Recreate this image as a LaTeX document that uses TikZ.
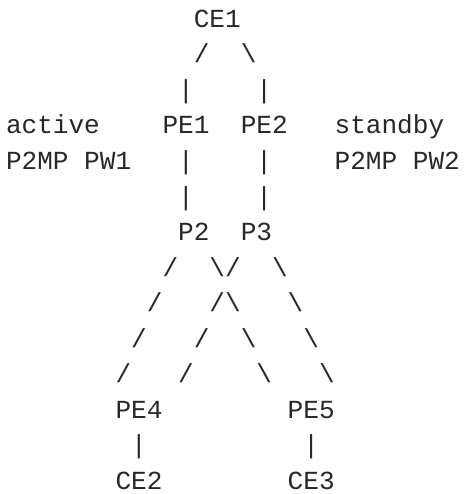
\documentclass[tikz,border=0pt]{standalone}
\usepackage{fontspec}
\setmonofont{Liberation Mono}
\definecolor{ink}{RGB}{40,40,40}
% character grid: column width, line height, origin of column 0 / line 0 baseline
\newcommand\cw{15.65}
\newcommand\lh{35.54}
\newcommand\xo{6}
\newcommand\yo{27.3}
% a token placed at (column, line) on the monospace grid
\newcommand\tok[4]{\node[tok] (#1) at ({\xo+#2*\cw},{\yo+#3*\lh}) {#4};}
\begin{document}
\begin{tikzpicture}[x=1pt,y=-1pt,
  tok/.style={anchor=base west,inner sep=0pt,outer sep=0pt,text=ink,
    text depth=0pt,font=\ttfamily\fontsize{26.08}{35.54}\selectfont}]
\useasboundingbox[fill=white] (0,0) rectangle (463,494);
% top CE and the two attachment legs
\tok{ce1}{12}{0}{CE1}
\tok{s1}{12}{1}{/}
\tok{b1}{15}{1}{\textbackslash}
\tok{v1}{11}{2}{|}
\tok{v2}{16}{2}{|}
% PE row with PW labels
\tok{lact}{0}{3}{active}
\tok{pe1}{10}{3}{PE1}
\tok{pe2}{15}{3}{PE2}
\tok{lstb}{21}{3}{standby}
\tok{lpw1}{0}{4}{P2MP PW1}
\tok{v3}{11}{4}{|}
\tok{v4}{16}{4}{|}
\tok{lpw2}{21}{4}{P2MP PW2}
\tok{v5}{11}{5}{|}
\tok{v6}{16}{5}{|}
% P routers
\tok{p2}{11}{6}{P2}
\tok{p3}{15}{6}{P3}
% crossing fan-out towards PE4 / PE5
\tok{a1}{10}{7}{/}
\tok{a2}{13}{7}{\textbackslash}
\tok{a3}{14}{7}{/}
\tok{a4}{17}{7}{\textbackslash}
\tok{b1a}{9}{8}{/}
\tok{b2a}{13}{8}{/}
\tok{b3a}{14}{8}{\textbackslash}
\tok{b4a}{18}{8}{\textbackslash}
\tok{c1}{8}{9}{/}
\tok{c2}{12}{9}{/}
\tok{c3}{15}{9}{\textbackslash}
\tok{c4}{19}{9}{\textbackslash}
\tok{d1}{7}{10}{/}
\tok{d2}{11}{10}{/}
\tok{d3}{16}{10}{\textbackslash}
\tok{d4}{20}{10}{\textbackslash}
% egress PEs and their CEs
\tok{pe4}{7}{11}{PE4}
\tok{pe5}{18}{11}{PE5}
\tok{v7}{8}{12}{|}
\tok{v8}{19}{12}{|}
\tok{ce2}{7}{13}{CE2}
\tok{ce3}{18}{13}{CE3}
\end{tikzpicture}
\end{document}
